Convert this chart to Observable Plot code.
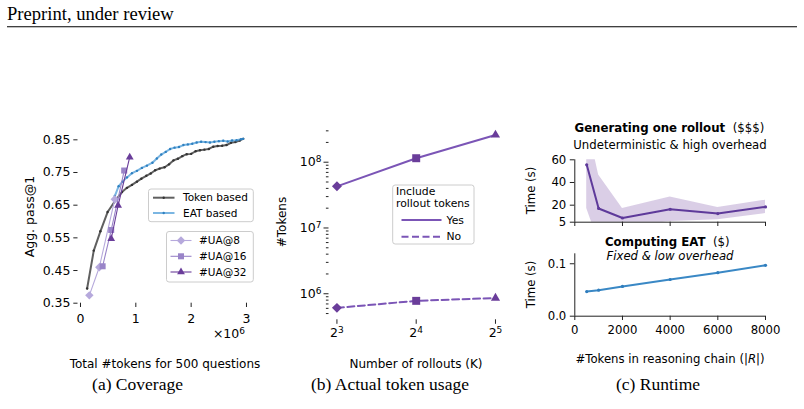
<!DOCTYPE html>
<html><head><meta charset="utf-8">
<script src="https://cdn.jsdelivr.net/npm/d3@7"></script>
<script src="https://cdn.jsdelivr.net/npm/@observablehq/plot@0.6"></script>
<style>
html,body{margin:0;padding:0;background:#fff;}
#root{position:relative;width:804px;height:409px;overflow:hidden;background:#fff;font-family:"DejaVu Sans";}
#root svg{position:absolute;max-width:none;}
</style></head><body><div id="root"></div>
<script>
// ---------- Panel (a): coverage ----------
const aTicksX = [0, 1, 2, 3];                 // x in millions of tokens
const aTicksY = [0.35, 0.45, 0.55, 0.65, 0.75, 0.85];
const tokenX = [0.12,0.24,0.36,0.49,0.63,0.75,0.84,0.93,1.02,1.10,1.19,1.27,1.35,1.43,1.52,1.60,1.68,1.76,1.84,1.92,2.00,2.08,2.16,2.24,2.32,2.40,2.48,2.56,2.64,2.72,2.80,2.88,2.94];
const tokenY = [0.395,0.511,0.570,0.629,0.664,0.690,0.703,0.712,0.722,0.731,0.740,0.747,0.757,0.762,0.766,0.775,0.787,0.792,0.800,0.806,0.807,0.815,0.818,0.820,0.822,0.829,0.831,0.832,0.834,0.841,0.843,0.848,0.853];
const eatX = [0.62,0.69,0.76,0.84,0.93,1.02,1.11,1.20,1.30,1.38,1.46,1.54,1.62,1.70,1.78,1.86,1.94,2.02,2.10,2.18,2.26,2.34,2.42,2.50,2.58,2.66,2.74,2.82,2.90,2.94];
const eatY = [0.678,0.708,0.722,0.735,0.748,0.755,0.764,0.771,0.780,0.793,0.805,0.813,0.822,0.826,0.828,0.834,0.836,0.838,0.842,0.844,0.843,0.842,0.844,0.846,0.847,0.845,0.848,0.849,0.852,0.853];
const ua8X = [0.16, 0.34, 0.62],  ua8Y = [0.374, 0.460, 0.668];
const ua16X = [0.40, 0.555, 0.79], ua16Y = [0.463, 0.574, 0.756];
const ua32X = [0.555, 0.68, 0.89], ua32Y = [0.547, 0.649, 0.797];
const aLegend1 = ["Token based", "EAT based"];
const aLegend2 = ["#UA@8", "#UA@16", "#UA@32"];

// ---------- Panel (b): token usage ----------
const rollouts = [8, 16, 32];
const rolloutTickLabels = ["2³", "2⁴", "2⁵"];
const bMajorTicks = [1e6, 1e7, 1e8];
const bMajorLabels = ["10⁶", "10⁷", "10⁸"];
const tokensWithRollout = [4.3e7, 1.15e8, 2.6e8];
const tokensWithoutRollout = [6.1e5, 7.8e5, 8.6e5];
const rolloutSymbols = ["diamond2", "square", "triangle"];
const bLegendTitle = ["Include", "rollout tokens"];
const bLegend = ["Yes", "No"];

// ---------- Panel (c): runtime ----------
const chainLen = [500, 1000, 2000, 4000, 6000, 8000];
const cTicksX = [0, 2000, 4000, 6000, 8000];
const rolloutTime = [55.6, 17.1, 8.7, 16.4, 12.6, 18.5];
const rolloutStd = [38.5, 29.6, 8.4, 10.8, 5.4, 5.9];
const cTopTicksY = [5, 20, 40, 60];
const eatTime = [0.047, 0.0497, 0.0567, 0.070, 0.083, 0.097];
const cBotTicksY = [0.0, 0.1];

const root = document.getElementById("root");
function place(svg, left, top) {
  svg.style.position = "absolute";
  svg.style.left = left + "px";
  svg.style.top = top + "px";
  root.appendChild(svg);
}
const baseStyle = (fs) => ({fontFamily: "DejaVu Sans", fontSize: fs, background: "transparent", overflow: "visible", color: "#000"});

// turn unicode superscripts into raised tspans (mathtext look)
const SUP = {"⁰":"0","¹":"1","²":"2","³":"3","⁴":"4","⁵":"5","⁶":"6","⁷":"7","⁸":"8","⁹":"9"};
function supify(textEl) {
  const s = textEl.textContent;
  const m = s.match(/^(.*?)([⁰¹²³⁴⁵⁶⁷⁸⁹]+)$/);
  if (!m) return;
  textEl.textContent = m[1];
  const ts = document.createElementNS("http://www.w3.org/2000/svg", "tspan");
  ts.setAttribute("dy", "-0.42em");
  ts.setAttribute("font-size", "0.72em");
  ts.textContent = m[2].split("").map(c => SUP[c]).join("");
  textEl.appendChild(ts);
}

// ---- (a)
const idxT = tokenX.map((_, i) => i), idxE = eatX.map((_, i) => i), idx3 = [0, 1, 2];
const pa = Plot.plot({
  width: 280, height: 250, marginLeft: 77.5, marginRight: 29.6, marginTop: 30.5, marginBottom: 47.3,
  style: baseStyle("12.5px"),
  x: {domain: [-0.045, 3.08]}, y: {domain: [0.35, 0.877]},
  r: {type: "identity"},
  marks: [
    Plot.axisX({ticks: aTicksX, tickSize: 4.3, tickPadding: 6.5, tickFormat: d => String(d), label: null, stroke: "#222"}),
    Plot.axisY({ticks: aTicksY, tickSize: 4.2, tickPadding: 3.3, tickFormat: d => d.toFixed(2), label: null, stroke: "#222"}),
    Plot.line(idxT, {x: tokenX, y: tokenY, stroke: "#383838", strokeWidth: 2, strokeOpacity: 0.8}),
    Plot.dot(idxT, {x: tokenX, y: tokenY, r: 1.2, fill: "#333"}),
    Plot.line(idxE, {x: eatX, y: eatY, stroke: "#4f9ed8", strokeWidth: 2, strokeOpacity: 0.75}),
    Plot.dot(idxE, {x: eatX, y: eatY, r: 1.2, fill: "#2f80c0"}),
    Plot.line(idx3, {x: ua8X, y: ua8Y, stroke: "#b6a9dc", strokeWidth: 1.1}),
    Plot.dot(idx3, {x: ua8X, y: ua8Y, symbol: "diamond2", r: 3.8, fill: "#b6a9dc"}),
    Plot.line(idx3, {x: ua16X, y: ua16Y, stroke: "#9984c8", strokeWidth: 1.1}),
    Plot.dot(idx3, {x: ua16X, y: ua16Y, symbol: "square", r: 3.4, fill: "#9984c8"}),
    Plot.line(idx3, {x: ua32X, y: ua32Y, stroke: "#6a3d9a", strokeWidth: 1.1}),
    Plot.dot(idx3, {x: ua32X, y: ua32Y, symbol: "triangle", r: 2.9, fill: "#6a3d9a"})
  ]
});
place(pa, 0, 100);

// ---- (b)
const pb = Plot.plot({
  width: 260, height: 250, marginLeft: 48.5, marginRight: 37.1, marginTop: 26, marginBottom: 30.7,
  style: baseStyle("12.5px"),
  x: {type: "log", base: 2, domain: [8 / Math.pow(2, 0.1), 32 * Math.pow(2, 0.1)]},
  y: {type: "log", domain: [Math.pow(10, 5.604), Math.pow(10, 8.543)]},
  r: {type: "identity"},
  marks: [
    Plot.axisX({ticks: rollouts, tickSize: 4.5, tickPadding: 4, tickFormat: d => rolloutTickLabels[rollouts.indexOf(d)], label: null, stroke: "#222"}),
    Plot.axisY({ticks: bMajorTicks, tickSize: 5, tickPadding: 2.5, tickFormat: d => bMajorLabels[bMajorTicks.indexOf(d)], label: null, stroke: "#222"}),
    Plot.axisY({ticks: d3.range(5, 9).flatMap(e => [2,3,4,5,6,7,8,9].map(m => m * Math.pow(10, e))).filter(v => v > Math.pow(10, 5.604) && v < Math.pow(10, 8.543)), tickSize: 2.6, tickFormat: () => "", label: null, stroke: "#222"}),
    Plot.line(idx3, {x: rollouts, y: tokensWithRollout, stroke: "#7b55b6", strokeWidth: 2}),
    Plot.line(idx3, {x: rollouts, y: tokensWithoutRollout, stroke: "#7b55b6", strokeWidth: 2, strokeDasharray: "7,3.5"}),
    Plot.dot(idx3, {x: rollouts, y: tokensWithRollout, symbol: rolloutSymbols, r: [4.5, 4.5, 3.4], fill: "#6a3d9a"}),
    Plot.dot(idx3, {x: rollouts, y: tokensWithoutRollout, symbol: rolloutSymbols, r: [4.5, 4.5, 3.4], fill: "#6a3d9a"})
  ]
});
pb.querySelectorAll("text").forEach(supify);
place(pb, 280, 100);

// ---- (c) top
const idx6 = chainLen.map((_, i) => i);
const pcTop = Plot.plot({
  width: 264, height: 80, marginLeft: 34.3, marginRight: 39, marginTop: 9.3, marginBottom: 8.3,
  style: baseStyle("11.7px"),
  x: {domain: [0, 8000]}, y: {domain: [5, 60]},
  marks: [
    Plot.areaY(idx6, {x: chainLen, y1: chainLen.map((_, i) => rolloutTime[i] - rolloutStd[i]), y2: chainLen.map((_, i) => rolloutTime[i] + rolloutStd[i]), fill: "#6a3d9a", fillOpacity: 0.25, clip: true}),
    Plot.line(idx6, {x: chainLen, y: rolloutTime, stroke: "#5e3a9a", strokeWidth: 2}),
    Plot.dot(idx6, {x: chainLen, y: rolloutTime, r: 1.6, fill: "#5e3a9a"}),
    Plot.ruleX([0], {stroke: "#222", strokeWidth: 1}),
    Plot.ruleY([5], {stroke: "#222", strokeWidth: 1}),
    Plot.axisX({ticks: cTicksX, tickSize: 4.3, tickFormat: () => "", label: null, stroke: "#222"}),
    Plot.axisY({ticks: cTopTicksY, tickSize: 4.5, tickPadding: 4, tickFormat: d => String(d), label: null, stroke: "#222"})
  ]
});
place(pcTop, 540, 150);

// ---- (c) bottom
const pcBot = Plot.plot({
  width: 264, height: 110, marginLeft: 34.3, marginRight: 39, marginTop: 13.3, marginBottom: 34.3,
  style: baseStyle("11.7px"),
  x: {domain: [0, 8000]}, y: {domain: [0, 0.119]},
  marks: [
    Plot.line(idx6, {x: chainLen, y: eatTime, stroke: "#3a88c5", strokeWidth: 2}),
    Plot.dot(idx6, {x: chainLen, y: eatTime, r: 1.6, fill: "#2f7dbd"}),
    Plot.ruleX([0], {stroke: "#222", strokeWidth: 1}),
    Plot.ruleY([0], {stroke: "#222", strokeWidth: 1}),
    Plot.axisX({ticks: cTicksX, tickSize: 4.3, tickPadding: 5.5, tickFormat: d => String(d), label: null, stroke: "#222"}),
    Plot.axisY({ticks: cBotTicksY, tickSize: 4.5, tickPadding: 4, tickFormat: d => d.toFixed(1), label: null, stroke: "#222"})
  ]
});
place(pcBot, 540, 240);

// ---------- Overlay: texts & legends ----------
const ov = d3.select(root).append("svg").attr("width", 804).attr("height", 409)
  .style("left", "0px").style("top", "0px").style("position", "absolute");

function txt(x, y, s, o = {}) {
  const t = ov.append("text").attr("x", x).attr("y", y)
    .attr("font-family", o.family || "DejaVu Sans").attr("font-size", o.size || 12)
    .attr("text-anchor", o.anchor || "start").attr("fill", "#000");
  if (o.weight) t.attr("font-weight", o.weight);
  if (o.style) t.attr("font-style", o.style);
  if (o.dy) t.attr("dy", o.dy);
  if (o.rotate) t.attr("transform", `rotate(-90,${x},${y})`);
  t.text(s);
  return t;
}

// header
txt(7, 19.8, "Preprint, under review", {family: "Liberation Serif", size: 18.6});
ov.append("line").attr("x1", 7).attr("x2", 797).attr("y1", 26.8).attr("y2", 26.8).attr("stroke", "#000").attr("stroke-width", 1.1);

// axis labels
txt(29.5, 216.6, "Agg. pass@1", {size: 12.5, anchor: "middle", rotate: true, dy: "0.35em"});
supify(txt(245, 338, "×10⁶", {size: 12.5, anchor: "end"}).node());
txt(165, 367.5, "Total #tokens for 500 questions", {size: 12, anchor: "middle"});
txt(282, 222, "#Tokens", {size: 12, anchor: "middle", rotate: true, dy: "0.35em"});
txt(416, 367.5, "Number of rollouts (K)", {size: 12, anchor: "middle"});
const cx = txt(670, 363, "#Tokens in reasoning chain (|", {size: 11.7, anchor: "middle"});
cx.append("tspan").attr("font-style", "italic").text("R");
cx.append("tspan").text("|)");
txt(531, 190.5, "Time (s)", {size: 11.7, anchor: "middle", rotate: true, dy: "0.35em"});
txt(531, 284.5, "Time (s)", {size: 11.7, anchor: "middle", rotate: true, dy: "0.35em"});

// panel (c) titles
const t1 = txt(574.5, 132, "Generating one rollout", {size: 11.75, weight: "bold"});
t1.append("tspan").attr("font-weight", "normal").attr("dx", 7.5).text("($$$)");
txt(670, 148.5, "Undeterministic & high overhead", {size: 11.7, anchor: "middle"});
const t2 = txt(605, 245.5, "Computing EAT", {size: 11.75, weight: "bold"});
t2.append("tspan").attr("font-weight", "normal").attr("dx", 7.5).text("($)");
txt(670, 260, "Fixed & low overhead", {size: 11.7, anchor: "middle", style: "italic"});

// captions
txt(137.5, 390, "(a) Coverage", {family: "Liberation Serif", size: 17.5, anchor: "middle"});
txt(390, 390, "(b) Actual token usage", {family: "Liberation Serif", size: 17.5, anchor: "middle"});
txt(658, 390, "(c) Runtime", {family: "Liberation Serif", size: 17.5, anchor: "middle"});

// legend helpers
function box(x, y, w, h) {
  ov.append("rect").attr("x", x).attr("y", y).attr("width", w).attr("height", h).attr("rx", 2.5)
    .attr("fill", "white").attr("fill-opacity", 0.8).attr("stroke", "#cccccc").attr("stroke-width", 1);
}
function hline(x1, x2, y, color, w, op, dash) {
  const l = ov.append("line").attr("x1", x1).attr("x2", x2).attr("y1", y).attr("y2", y)
    .attr("stroke", color).attr("stroke-width", w).attr("stroke-opacity", op);
  if (dash) l.attr("stroke-dasharray", dash);
}
function sym(x, y, type, r, fill) {
  ov.append("path").attr("transform", `translate(${x},${y})`)
    .attr("d", d3.symbol(type, r * r * Math.PI)()).attr("fill", fill);
}

// (a) legend 1
box(148.5, 189, 104.8, 32.7);
hline(153, 174.5, 197.7, "#383838", 2, 0.8); sym(163.7, 197.7, d3.symbolCircle, 1.2, "#333");
txt(183, 197.7, aLegend1[0], {size: 10.5, dy: "0.35em"});
hline(153, 174.5, 213, "#4f9ed8", 2, 0.75); sym(163.7, 213, d3.symbolCircle, 1.2, "#2f80c0");
txt(183, 213, aLegend1[1], {size: 10.5, dy: "0.35em"});
// (a) legend 2
box(166.5, 231.5, 86.8, 50.5);
hline(170.5, 191.5, 240.5, "#b6a9dc", 1.1, 1); sym(181, 240.5, d3.symbolDiamond2, 3.8, "#b6a9dc");
txt(199, 240.5, aLegend2[0], {size: 10.5, dy: "0.35em"});
hline(170.5, 191.5, 256.3, "#9984c8", 1.1, 1); sym(181, 256.3, d3.symbolSquare, 3.4, "#9984c8");
txt(199, 256.3, aLegend2[1], {size: 10.5, dy: "0.35em"});
hline(170.5, 191.5, 272, "#6a3d9a", 1.1, 1); sym(181, 272, d3.symbolTriangle, 2.9, "#6a3d9a");
txt(199, 272, aLegend2[2], {size: 10.5, dy: "0.35em"});

// (b) legend
box(392.7, 185, 81.3, 59);
txt(396, 191.7, bLegendTitle[0], {size: 10.8, dy: "0.35em"});
txt(396, 203.5, bLegendTitle[1], {size: 10.8, dy: "0.35em"});
hline(401.5, 441.5, 220, "#7b55b6", 2, 1);
txt(446.5, 220, bLegend[0], {size: 10.8, dy: "0.35em"});
hline(401.5, 441.5, 236.7, "#7b55b6", 2, 1, "7,3.5");
txt(446.5, 236.7, bLegend[1], {size: 10.8, dy: "0.35em"});
</script></body></html>
